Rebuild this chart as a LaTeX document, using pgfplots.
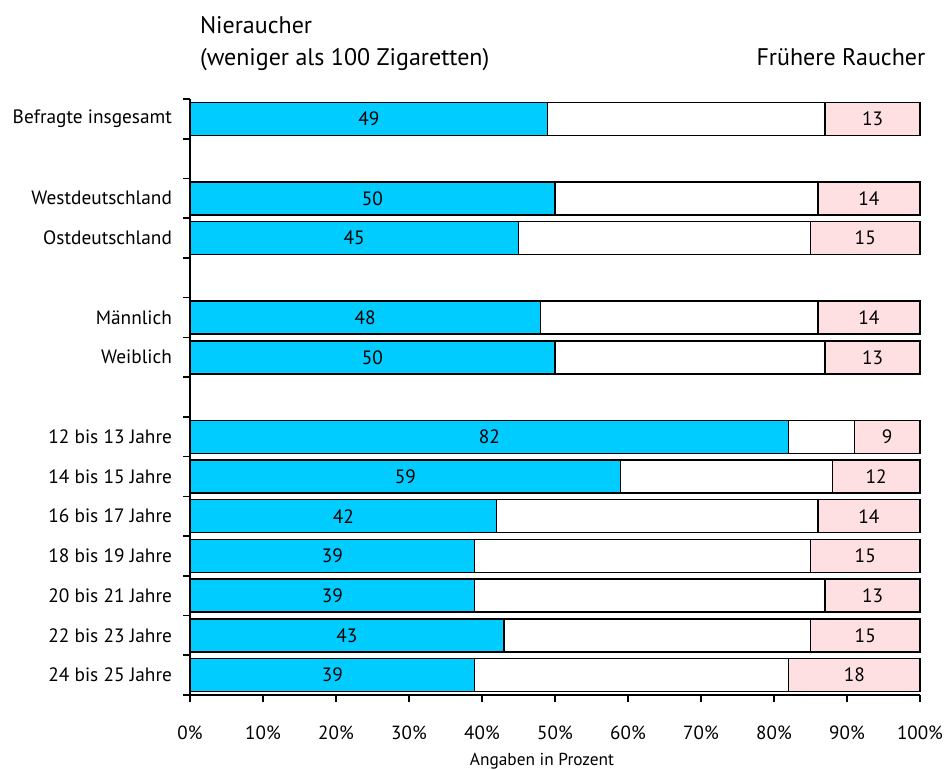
\documentclass[border=0pt]{standalone}
\usepackage{pgfplots}
\pgfplotsset{compat=1.18}
\usepackage{fontspec}
\setmainfont{PT Sans}
\definecolor{cyanbar}{HTML}{00CCFF}
\definecolor{pinkbar}{HTML}{FFE0E2}
\begin{document}
\begin{tikzpicture}[x=1pt,y=1pt]
\begin{axis}[
 at={(0,0)}, anchor=south west,
 scale only axis, width=547.5pt, height=447pt,
 xmin=0, xmax=100, ymin=-0.5, ymax=14.5,
 axis lines*=left,
 axis line style={line width=1.2pt},
 /pgf/number format/assume math mode=true,
 font=\fontsize{14.5}{17}\selectfont,
 xtick={0,10,...,100},
 xticklabel={\pgfmathprintnumber{\tick}\%},
 xticklabel style={anchor=base, yshift=-28pt, font=\fontsize{14.3}{16}\selectfont},
 ytick={0,1,2,3,4,5,6,8,9,11,12,14},
 yticklabels={24 bis 25 Jahre, 22 bis 23 Jahre, 20 bis 21 Jahre, 18 bis 19 Jahre, 16 bis 17 Jahre, 14 bis 15 Jahre, 12 bis 13 Jahre, Weiblich, Männlich, Ostdeutschland, Westdeutschland, Befragte insgesamt},
 yticklabel style={xshift=-5pt},
 minor ytick={-0.5,0.5,...,14.5},
 every major y tick/.append style={draw=none},
 tick align=outside,
 major tick length=5pt, minor tick length=5pt,
 tick style={line width=1.2pt, black},
 clip=false,
]
\addplot[xbar, bar width=24.75pt, bar shift=0pt, fill=pinkbar, draw=black, line width=1.1pt] coordinates {(100,14) (100,12) (100,11) (100,9) (100,8) (100,6) (100,5) (100,4) (100,3) (100,2) (100,1) (100,0)};
\addplot[xbar, bar width=24.75pt, bar shift=0pt, fill=white, draw=black, line width=1.1pt] coordinates {(87,14) (86,12) (85,11) (86,9) (87,8) (91,6) (88,5) (86,4) (85,3) (87,2) (85,1) (82,0)};
\addplot[xbar, bar width=24.75pt, bar shift=0pt, fill=cyanbar, draw=black, line width=1.1pt] coordinates {(49,14) (50,12) (45,11) (48,9) (50,8) (82,6) (59,5) (42,4) (39,3) (39,2) (43,1) (39,0)};
\addplot[draw=none, nodes near coords, point meta=explicit symbolic, every node near coord/.append style={anchor=center}] coordinates {(24.5,14) [49] (25,12) [50] (22.5,11) [45] (24,9) [48] (25,8) [50] (41,6) [82] (29.5,5) [59] (21,4) [42] (19.5,3) [39] (19.5,2) [39] (21.5,1) [43] (19.5,0) [39]};
\addplot[draw=none, nodes near coords, point meta=explicit symbolic, every node near coord/.append style={anchor=center}] coordinates {(93.5,14) [13] (93,12) [14] (92.5,11) [15] (93,9) [14] (93.5,8) [13] (95.5,6) [9] (94,5) [12] (93,4) [14] (92.5,3) [15] (93.5,2) [13] (92.5,1) [15] (91,0) [18]};
\node[anchor=base west, font=\fontsize{18}{21}\selectfont] at (rel axis cs:0,1) [xshift=4pt, yshift=49pt] {Nieraucher};
\node[anchor=base west, font=\fontsize{18}{21}\selectfont] at (rel axis cs:0,1) [xshift=4pt, yshift=25.5pt] {(weniger als 100 Zigaretten)};
\node[anchor=base east, font=\fontsize{18}{21}\selectfont] at (rel axis cs:1,1) [xshift=7.5pt, yshift=25.5pt] {Frühere Raucher};
\node[anchor=base, font=\fontsize{13}{15}\selectfont] at (rel axis cs:0.5,0) [xshift=-9.75pt, yshift=-52.5pt] {Angaben in Prozent};
\end{axis}
\pgfresetboundingbox
\path (-142.5pt,-55.5pt) rectangle (567.75pt,521.25pt);
\end{tikzpicture}
\end{document}
